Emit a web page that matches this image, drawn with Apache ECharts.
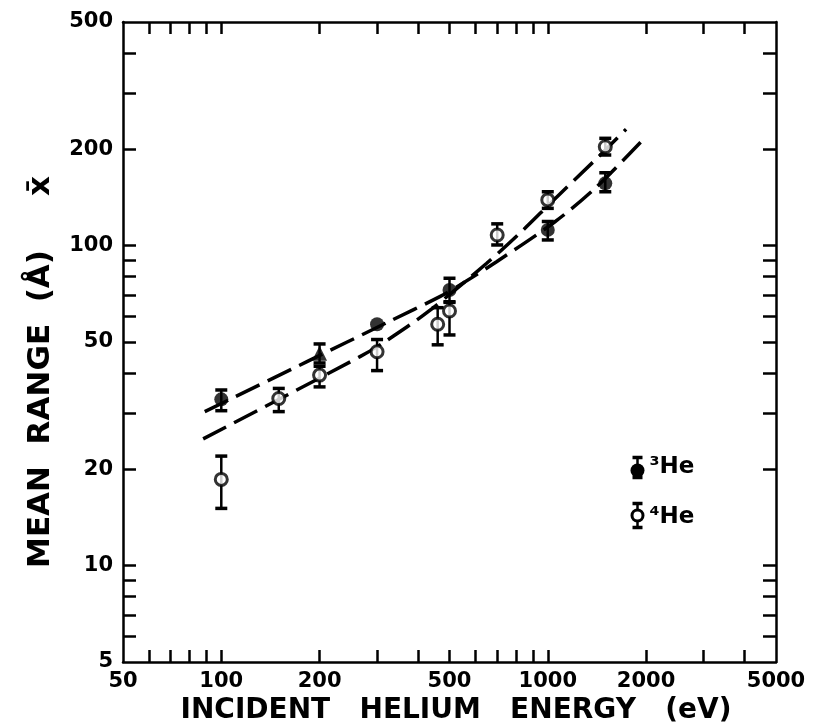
<!DOCTYPE html>
<html>
<head>
<meta charset="utf-8">
<script src="https://cdn.jsdelivr.net/npm/echarts@6/dist/echarts.min.js"></script>
<style>html,body{margin:0;padding:0;background:#fff}#c{width:818px;height:727px}</style>
</head>
<body>
<div id="c"></div>
<script>
// ---- data ----
const xTickLabels = [50, 100, 200, 500, 1000, 2000, 5000];
const yTickLabels = [5, 10, 20, 50, 100, 200, 500];
const xMinorTicks = [60, 70, 80, 90, 100, 200, 300, 400, 500, 600, 700, 800, 900, 1000, 2000, 3000, 4000];
const yMinorTicks = [6, 7, 8, 9, 10, 20, 30, 40, 50, 60, 70, 80, 90, 100, 200, 300, 400];

// 3He (filled symbols)
const he3Energy = [100, 200, 300, 500, 1000, 1500];
const he3Range  = [33.1, 46.1, 56.8, 72.7, 112, 156.6];
const he3Low    = [30.5, 43.0, null, 66.5, 104.2, 147.4];
const he3High   = [35.4, 49.3, null, 79.1, 119, 169];
const he3Symbol = ['circle', 'triangle', 'circle', 'circle', 'circle', 'circle'];

// 4He (open symbols)
const he4Energy = [100, 150, 200, 300, 460, 500, 700, 1000, 1500];
const he4Range  = [18.6, 33.3, 39.4, 46.6, 56.8, 62.5, 108, 139, 203.8];
const he4Low    = [15.1, 30.3, 36.2, 40.7, 49.0, 52.6, 100.5, 130.8, 192];
const he4High   = [22.0, 35.8, 42.0, 50.9, 64.0, 66.8, 117, 147.4, 216.5];

// fitted dashed curves
const fit3Energy = [89, 183, 325, 467, 538, 697, 1052, 1395, 1946];
const fit3Range  = [30.3, 43.4, 57.8, 69.3, 75.3, 89.1, 118.8, 151, 213];
const fit4Energy = [88, 266, 317, 430, 650, 841, 1028, 1395, 1737];
const fit4Range  = [24.9, 45.0, 50.1, 62.2, 88.1, 112, 137, 185, 231];

// ---- chart ----
const FONT = 'DejaVu Sans';
const zip = (a, b) => a.map((v, i) => [v, b[i]]);
const errData = (e, lo, hi) => e.map((v, i) => [v, lo[i], hi[i]]).filter(d => d[1] != null);

function errRender(params, api) {
  const x = api.value(0);
  const p1 = api.coord([x, api.value(1)]);
  const p2 = api.coord([x, api.value(2)]);
  const w = 6;
  const st = { stroke: '#000', lineWidth: 2.5 };
  const cap = { stroke: '#000', lineWidth: 3.5 };
  return {
    type: 'group',
    children: [
      { type: 'line', shape: { x1: p1[0], y1: p1[1], x2: p2[0], y2: p2[1] }, style: st },
      { type: 'line', shape: { x1: p1[0] - w, y1: p1[1], x2: p1[0] + w, y2: p1[1] }, style: cap },
      { type: 'line', shape: { x1: p2[0] - w, y1: p2[1], x2: p2[0] + w, y2: p2[1] }, style: cap }
    ]
  };
}

const axisCommonX = {
  type: 'log', logBase: 10, min: 50, max: 5000,
  axisLine: { show: true, onZero: false, lineStyle: { color: '#000', width: 2.5 } },
  axisTick: { show: true, inside: true, length: 12, customValues: xMinorTicks, lineStyle: { color: '#000', width: 2.5 } },
  splitLine: { show: false }, minorTick: { show: false }
};
const axisCommonY = {
  type: 'log', logBase: 10, min: 5, max: 500,
  axisLine: { show: true, onZero: false, lineStyle: { color: '#000', width: 2.5 } },
  axisTick: { show: true, inside: true, length: 13, customValues: yMinorTicks, lineStyle: { color: '#000', width: 2.5 } },
  splitLine: { show: false }, minorTick: { show: false }
};
const labelStyle = { color: '#000', fontFamily: FONT, fontWeight: 'bold', fontSize: 21 };

const chart = echarts.init(document.getElementById('c'), null, { renderer: 'canvas' });
chart.setOption({
  backgroundColor: '#fff',
  animation: false,
  grid: { left: 123, right: 42, top: 22, bottom: 65, containLabel: false },
  xAxis: [
    Object.assign({}, axisCommonX, { position: 'bottom',
      axisLabel: Object.assign({ show: true, margin: 9, customValues: xTickLabels, formatter: v => String(Math.round(v)) }, labelStyle) }),
    Object.assign({}, axisCommonX, { position: 'top', axisLabel: { show: false } })
  ],
  yAxis: [
    Object.assign({}, axisCommonY, { position: 'left',
      axisLabel: Object.assign({ show: true, margin: 10, customValues: yTickLabels, formatter: v => String(Math.round(v)) }, labelStyle) }),
    Object.assign({}, axisCommonY, { position: 'right', axisLabel: { show: false } })
  ],
  series: [
    { type: 'line', data: zip(fit3Energy, fit3Range), smooth: 0.3, symbol: 'none',
      lineStyle: { color: '#000', width: 3.5, type: [26, 9] }, z: 2 },
    { type: 'line', data: zip(fit4Energy, fit4Range), smooth: 0.3, symbol: 'none',
      lineStyle: { color: '#000', width: 3.5, type: [26, 9] }, z: 2 },
    { type: 'custom', renderItem: errRender, data: errData(he3Energy, he3Low, he3High),
      encode: { x: 0, y: [1, 2] }, z: 3 },
    { type: 'custom', renderItem: errRender, data: errData(he4Energy, he4Low, he4High),
      encode: { x: 0, y: [1, 2] }, z: 3 },
    { type: 'scatter', data: he3Energy.map((e, i) => ({ value: [e, he3Range[i]], symbol: he3Symbol[i], symbolSize: he3Symbol[i] === 'triangle' ? 15 : 14 })),
      itemStyle: { color: '#000' }, z: 4 },
    { type: 'scatter', data: zip(he4Energy, he4Range), symbol: 'circle', symbolSize: 12,
      itemStyle: { color: '#fff', borderColor: '#000', borderWidth: 3 }, z: 4 }
  ],
  graphic: [
    { type: 'text', x: 41, y: 372, rotation: Math.PI / 2,
      style: { text: 'MEAN  RANGE  (Å)     x\u0304', font: 'bold 31px "DejaVu Sans"', fill: '#000', textAlign: 'center', textVerticalAlign: 'middle' } },
    { type: 'text', x: 456, y: 711,
      style: { text: 'INCIDENT   HELIUM   ENERGY   (eV)', font: 'bold 28px "DejaVu Sans"', fill: '#000', textAlign: 'center', textVerticalAlign: 'middle' } },
    // legend
    { type: 'group', left: 630, top: 455, children: [
      { type: 'line', shape: { x1: 13, y1: 2, x2: 13, y2: 22 }, style: { stroke: '#000', lineWidth: 2.5 } },
      { type: 'line', shape: { x1: 8, y1: 2, x2: 18, y2: 2 }, style: { stroke: '#000', lineWidth: 3.5 } },
      { type: 'line', shape: { x1: 8, y1: 22, x2: 18, y2: 22 }, style: { stroke: '#000', lineWidth: 3.5 } },
      { type: 'circle', shape: { cx: 13, cy: 15, r: 7 }, style: { fill: '#000' } },
      { type: 'text', x: 25, y: 12, style: { text: '³He', font: 'bold 23px "DejaVu Sans"', fill: '#000', textVerticalAlign: 'middle' } },
      { type: 'line', shape: { x1: 13, y1: 48, x2: 13, y2: 72 }, style: { stroke: '#000', lineWidth: 2.5 } },
      { type: 'line', shape: { x1: 8, y1: 48, x2: 18, y2: 48 }, style: { stroke: '#000', lineWidth: 3.5 } },
      { type: 'line', shape: { x1: 8, y1: 72, x2: 18, y2: 72 }, style: { stroke: '#000', lineWidth: 3.5 } },
      { type: 'circle', shape: { cx: 13, cy: 60, r: 5.5 }, style: { fill: '#fff', stroke: '#000', lineWidth: 3 } },
      { type: 'text', x: 25, y: 62, style: { text: '⁴He', font: 'bold 23px "DejaVu Sans"', fill: '#000', textVerticalAlign: 'middle' } }
    ] }
  ]
});
</script>
</body>
</html>
